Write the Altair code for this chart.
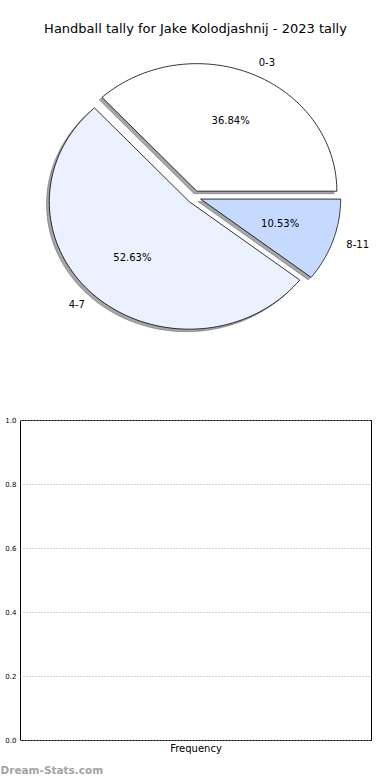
import altair as alt
import pandas as pd

# ---- data ----
categories = ["0-3", "4-7", "8-11"]
counts = [7, 10, 2]
slice_colors = ["#ffffff", "#ebf1ff", "#c6d9ff"]
title_text = "Handball tally for Jake Kolodjashnij - 2023 tally"
y_ticks = [0.0, 0.2, 0.4, 0.6, 0.8, 1.0]
watermark = ["Dream-Stats.com"]

EXPLODE = 0.05
N = 90
FONT = "DejaVu Sans"

pie_df = pd.DataFrame({"category": categories, "count": counts,
                       "order": list(range(len(categories)))})

xs = alt.Scale(domain=[-1.243, 1.264], nice=False, zero=False)
ys = alt.Scale(domain=[-1.2706, 1.2], nice=False, zero=False)

base = (
    alt.Chart(pie_df)
    .transform_joinaggregate(total="sum(count)")
    .transform_window(cum="sum(count)", sort=[alt.SortField("order")])
    .transform_calculate(
        t0="2*PI*(datum.cum - datum.count)/datum.total",
        t1="2*PI*datum.cum/datum.total",
        tm="(datum.t0 + datum.t1)/2",
        cx=f"{EXPLODE}*cos(datum.tm)",
        cy=f"{EXPLODE}*sin(datum.tm)",
        pct="format(100*datum.count/datum.total, '.2f') + '%'",
        pctx="datum.cx + 0.6*cos(datum.tm)",
        pcty="datum.cy + 0.6*sin(datum.tm)",
        labx="datum.cx + 1.1*cos(datum.tm)",
        laby="datum.cy + 1.1*sin(datum.tm)",
    )
)

poly = (
    base.transform_calculate(steps=f"sequence(0, {N + 1})")
    .transform_flatten(["steps"], as_=["step"])
    .transform_calculate(
        ang=f"datum.t0 + (datum.t1 - datum.t0)*(datum.step - 1)/{N - 1}",
        px="datum.step == 0 ? datum.cx : datum.cx + cos(datum.ang)",
        py="datum.step == 0 ? datum.cy : datum.cy + sin(datum.ang)",
    )
)

shadow = poly.mark_line(
    interpolate="linear-closed", fill="#4d4d4d", fillOpacity=0.5,
    stroke="#4d4d4d", strokeOpacity=0.5, strokeWidth=0.8,
    xOffset=-2.8, yOffset=2.5,
).encode(
    x=alt.X("px:Q", scale=xs, axis=None),
    y=alt.Y("py:Q", scale=ys, axis=None),
    detail="category:N",
    order="step:Q",
)

wedges = poly.mark_line(
    interpolate="linear-closed", stroke="black", strokeWidth=0.8,
    strokeJoin="miter",
).encode(
    x=alt.X("px:Q", scale=xs, axis=None),
    y=alt.Y("py:Q", scale=ys, axis=None),
    fill=alt.Fill("category:N",
                  scale=alt.Scale(domain=categories, range=slice_colors),
                  legend=None),
    detail="category:N",
    order="step:Q",
)

pct_text = base.mark_text(font=FONT, fontSize=10, color="black",
                          align="center", baseline="middle").encode(
    x=alt.X("pctx:Q", scale=xs, axis=None),
    y=alt.Y("pcty:Q", scale=ys, axis=None),
    text="pct:N",
)

lab_right = base.transform_filter("cos(datum.tm) > 0").mark_text(
    font=FONT, fontSize=10, color="black", align="left", baseline="middle"
).encode(
    x=alt.X("labx:Q", scale=xs, axis=None),
    y=alt.Y("laby:Q", scale=ys, axis=None),
    text="category:N",
)
lab_left = base.transform_filter("cos(datum.tm) <= 0").mark_text(
    font=FONT, fontSize=10, color="black", align="right", baseline="middle"
).encode(
    x=alt.X("labx:Q", scale=xs, axis=None),
    y=alt.Y("laby:Q", scale=ys, axis=None),
    text="category:N",
)

pie_chart = alt.layer(shadow, wedges, pct_text, lab_right, lab_left).properties(
    width=351, height=315,
    title=alt.TitleParams(text=title_text, fontSize=13, font=FONT,
                          fontWeight="normal", color="black", offset=8,
                          anchor="middle"),
    view=alt.ViewBackground(stroke="transparent"),
)

# ---- empty frequency panel ----
freq_df = pd.DataFrame({"bin_start": pd.Series([], dtype=float),
                        "freq": pd.Series([], dtype=float)})

bars = alt.Chart(freq_df).mark_bar().encode(
    x=alt.X("bin_start:Q", title="Frequency",
            scale=alt.Scale(domain=[0, 1], nice=False, zero=False),
            axis=alt.Axis(labels=False, ticks=False, domain=False, grid=False,
                          titleFont=FONT, titleFontSize=10, titleFontWeight="normal",
                          titleColor="black", titlePadding=3)),
    y=alt.Y("freq:Q", title="",
            scale=alt.Scale(domain=[0, 1], nice=False, zero=False),
            axis=alt.Axis(values=y_ticks, format=".1f", labelFont=FONT,
                          labelFontSize=7, labelColor="black", labelPadding=4,
                          ticks=False, domain=False, grid=True,
                          gridColor="#aaaaaa", gridDash=[1, 2], gridWidth=1)),
)

wm = alt.Chart(pd.DataFrame({"label": watermark})).mark_text(
    font=FONT, fontSize=10.5, fontWeight="bold", color="#a3a3a3",
    align="left", baseline="middle"
).encode(text="label:N", x=alt.value(-19.5), y=alt.value(351))

bottom = alt.layer(bars, wm).properties(
    width=351, height=320,
    view=alt.ViewBackground(stroke="black", strokeWidth=1),
)

chart = alt.vconcat(pie_chart, bottom, spacing=55).properties(
    padding={"left": 0, "top": 22, "right": 0, "bottom": 0},
    background="white",
).configure_view(stroke="transparent")

chart.save("out.html", embed_options={"renderer": "svg", "actions": False})
